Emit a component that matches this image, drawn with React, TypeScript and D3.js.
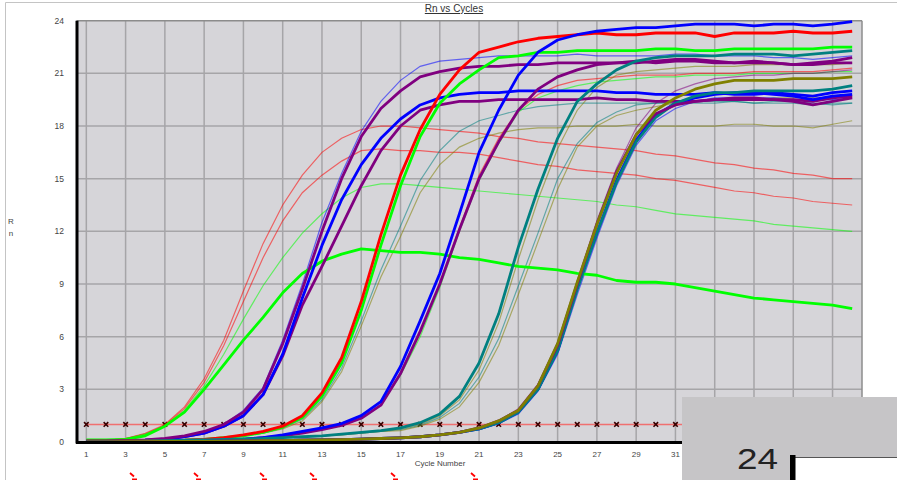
import React from "react";
import * as d3 from "d3";

// ---------- DATA ----------
const cycles = [1,2,3,4,5,6,7,8,9,10,11,12,13,14,15,16,17,18,19,20,21,22,23,24,25,26,27,28,29,30,31,32,33,34,35,36,37,38,39,40];
const gridCycles = [1,3,5,7,9,11,13,15,17,19,21,23,25,27,29,31,33,35,37,39];
const xTickLabels = [1,3,5,7,9,11,13,15,17,19,21,23,25,27,29,31];
const yTickLabels = [0,3,6,9,12,15,18,21,24];
const thresholdValue = 1;

// group 1 (early)
const redThinA = [0.05,0.1,0.2,0.5,1.0,2.0,3.6,5.8,8.6,11.3, 13.5,15.2,16.5,17.3,17.8,18.0,18.0,17.9,17.8,17.7, 17.6,17.4,17.3,17.1,17.0,16.9,16.8,16.7,16.6,16.4, 16.3,16.1,15.9,15.8,15.6,15.5,15.3,15.2,15.0,15.0];
const redThinB = [0.05,0.1,0.2,0.45,0.95,1.9,3.4,5.5,8.0,10.5, 12.6,14.2,15.2,16.0,16.6,16.7,16.6,16.6,16.5,16.5, 16.4,16.2,16.0,15.8,15.7,15.5,15.4,15.3,15.2,15.0, 14.9,14.7,14.5,14.3,14.2,14.0,13.9,13.7,13.6,13.5];
const greenThinA = [0.05,0.1,0.2,0.45,0.9,1.8,3.2,5.0,7.0,8.9, 10.5,11.9,13.0,13.9,14.5,14.7,14.7,14.6,14.5,14.4, 14.3,14.2,14.1,14.0,13.9,13.8,13.7,13.5,13.4,13.2, 13.0,12.9,12.8,12.7,12.6,12.4,12.3,12.2,12.1,12.0];
const greenThickA = [0.12,0.12,0.15,0.35,0.9,1.7,3.0,4.4,5.8,7.1, 8.5,9.6,10.3,10.7,11.0,10.9,10.8,10.8,10.7,10.5, 10.4,10.2,10.0,9.9,9.8,9.6,9.5,9.2,9.1,9.1, 9.0,8.8,8.6,8.4,8.2,8.1,8.0,7.9,7.8,7.6];

// group 2
const purpleThickA = [0.05,0.05,0.08,0.12,0.2,0.35,0.6,1.0,1.7,3.0, 5.6,8.7,12.0,15.0,17.4,19.0,20.0,20.8,21.1,21.3, 21.4,21.4,21.5,21.5,21.6,21.6,21.6,21.6,21.7,21.6, 21.7,21.7,21.6,21.6,21.7,21.6,21.5,21.5,21.6,21.6];
const blueThinA = [0.05,0.05,0.08,0.12,0.2,0.35,0.6,1.0,1.8,3.1, 5.8,9.0,12.5,15.3,17.7,19.4,20.6,21.4,21.7,21.8, 21.9,22.0,22.0,22.0,22.0,22.1,22.0,22.0,22.0,22.0, 22.1,22.1,22.0,22.0,22.0,21.9,21.9,21.8,21.9,22.0];
const blueThickA = [0.05,0.05,0.08,0.1,0.15,0.3,0.5,0.9,1.5,2.7, 5.0,8.2,11.2,13.8,15.8,17.3,18.4,19.2,19.6,19.8, 19.9,19.9,20.0,20.0,20.0,20.0,20.0,19.9,19.9,19.8, 19.8,19.8,19.9,19.8,19.8,19.9,19.8,19.7,19.9,20.0];
const purpleThickB = [0.05,0.05,0.08,0.1,0.15,0.3,0.5,0.9,1.5,2.7, 4.9,7.8,10.0,12.3,14.6,16.6,18.0,18.9,19.2,19.4, 19.4,19.5,19.5,19.5,19.5,19.5,19.6,19.5,19.5,19.4, 19.4,19.4,19.5,19.5,19.5,19.5,19.5,19.4,19.6,19.7];

// group 3
const redThick = [0.05,0.05,0.05,0.05,0.08,0.1,0.15,0.25,0.4,0.6, 0.9,1.5,2.8,4.8,8.0,11.8,15.2,17.8,19.8,21.2, 22.2,22.5,22.8,23.0,23.1,23.2,23.3,23.2,23.2,23.3, 23.3,23.3,23.1,23.3,23.3,23.3,23.4,23.3,23.3,23.4];
const greenThickB = [0.05,0.05,0.05,0.05,0.08,0.1,0.15,0.25,0.35,0.55, 0.85,1.4,2.6,4.5,7.5,11.2,14.6,17.4,19.3,20.4, 21.2,21.9,22.0,22.2,22.2,22.3,22.3,22.3,22.3,22.4, 22.4,22.3,22.3,22.4,22.4,22.4,22.4,22.4,22.5,22.5];
const tealThinA = [0.05,0.05,0.05,0.05,0.08,0.1,0.15,0.25,0.35,0.5, 0.8,1.3,2.4,4.2,6.9,9.8,12.3,14.9,16.6,17.7, 18.3,18.6,18.9,19.1,19.2,19.3,19.3,19.3,19.3,19.3, 19.3,19.3,19.3,19.4,19.3,19.3,19.3,19.2,19.3,19.3];
const oliveThinA = [0.05,0.05,0.05,0.05,0.08,0.1,0.15,0.25,0.35,0.5, 0.75,1.2,2.3,4.0,6.6,9.4,11.7,14.2,15.8,16.8, 17.3,17.6,17.8,17.9,17.9,18.0,18.0,18.0,18.1,18.0, 18.0,18.0,18.0,18.1,18.1,18.0,18.0,17.9,18.1,18.3];

// group 4
const blueThickB = [0.02,0.02,0.03,0.03,0.05,0.06,0.08,0.1,0.15,0.25, 0.4,0.6,0.8,1.05,1.5,2.3,4.3,6.9,9.6,13.0, 16.5,18.9,20.9,22.2,22.9,23.2,23.4,23.5,23.6,23.6, 23.7,23.8,23.8,23.8,23.7,23.8,23.8,23.7,23.8,23.95];
const purpleThickC = [0.02,0.02,0.03,0.03,0.05,0.06,0.08,0.1,0.15,0.25, 0.35,0.5,0.7,0.95,1.35,2.1,3.9,6.3,9.0,12.1, 15.0,17.1,18.9,20.1,20.8,21.2,21.5,21.6,21.6,21.7, 21.8,21.8,21.7,21.6,21.6,21.6,21.5,21.6,21.7,21.9];
const greenThinB = [0.02,0.02,0.03,0.03,0.05,0.06,0.08,0.1,0.15,0.25, 0.35,0.5,0.7,0.95,1.35,2.1,3.8,6.0,8.8,12.0, 14.9,17.0,18.8,19.6,20.0,20.3,20.5,20.6,20.7,20.8, 20.8,20.9,20.9,20.9,21.0,21.0,21.0,21.0,21.1,21.1];
const redThinC = [0.02,0.02,0.03,0.03,0.05,0.06,0.08,0.1,0.15,0.25, 0.35,0.5,0.7,0.95,1.35,2.1,3.9,6.2,9.0,12.2, 15.2,17.3,18.9,19.8,20.3,20.6,20.7,20.8,20.9,20.9, 20.9,21.0,21.0,21.0,21.1,21.1,21.1,21.1,21.2,21.3];

// group 5
const tealThickA = [0.03,0.03,0.04,0.05,0.07,0.1,0.12,0.15,0.18,0.2, 0.25,0.3,0.35,0.45,0.55,0.65,0.8,1.1,1.6,2.6, 4.5,7.3,11.1,14.4,17.3,19.4,20.4,21.2,21.7,21.9, 22.0,22.0,22.0,22.1,22.1,22.1,22.0,22.1,22.2,22.3];
const oliveThinB = [0.03,0.03,0.04,0.05,0.07,0.1,0.12,0.15,0.18,0.2, 0.25,0.3,0.35,0.45,0.55,0.65,0.75,1.0,1.5,2.4, 4.1,6.8,10.4,13.8,16.7,18.9,20.2,20.9,21.1,21.2, 21.3,21.4,21.4,21.4,21.5,21.5,21.5,21.5,21.5,21.6];
const tealThinB = [0.03,0.03,0.04,0.05,0.07,0.1,0.12,0.15,0.18,0.2, 0.25,0.3,0.35,0.4,0.5,0.6,0.7,0.95,1.4,2.2, 3.7,5.9,8.9,11.9,15.0,17.0,18.2,18.8,19.2,19.3, 19.4,19.4,19.4,19.4,19.3,19.4,19.4,19.3,19.2,19.3];
const oliveThinC = [0.03,0.03,0.04,0.05,0.07,0.1,0.12,0.15,0.18,0.2, 0.25,0.3,0.35,0.4,0.5,0.6,0.65,0.9,1.3,2.0, 3.4,5.5,8.4,11.4,14.4,16.8,18.0,18.6,18.9,19.1, 19.3,19.4,19.5,19.5,19.5,19.6,19.6,19.6,19.6,19.7];

// group 6
const blueThickC = [0.01,0.01,0.02,0.02,0.03,0.03,0.04,0.05,0.06,0.07, 0.08,0.1,0.12,0.14,0.16,0.2,0.24,0.3,0.4,0.55, 0.75,1.1,1.7,3.0,5.2,8.8,11.9,14.9,17.2,18.6, 19.3,19.6,19.8,19.9,19.9,19.8,19.7,19.5,19.7,19.8];
const oliveThick = [0.01,0.01,0.02,0.02,0.03,0.03,0.04,0.05,0.06,0.07, 0.08,0.1,0.12,0.14,0.16,0.2,0.24,0.3,0.4,0.55, 0.8,1.2,1.8,3.2,5.6,9.1,12.4,15.3,17.5,18.9, 19.6,20.1,20.4,20.6,20.6,20.6,20.7,20.7,20.7,20.8];
const purpleThickD = [0.01,0.01,0.02,0.02,0.03,0.03,0.04,0.05,0.06,0.07, 0.08,0.1,0.12,0.14,0.16,0.2,0.24,0.3,0.4,0.55, 0.8,1.2,1.8,3.2,5.5,9.0,12.4,15.4,17.5,18.7, 19.2,19.4,19.5,19.6,19.6,19.5,19.4,19.2,19.4,19.6];
const tealThickB = [0.01,0.01,0.02,0.02,0.03,0.03,0.04,0.05,0.06,0.07, 0.08,0.1,0.12,0.14,0.16,0.2,0.24,0.3,0.4,0.55, 0.75,1.1,1.7,3.0,5.2,8.7,11.9,14.8,17.1,18.5, 19.3,19.7,19.9,19.9,20.0,20.0,20.0,20.0,20.1,20.3];
const purpleThinB = [0.01,0.01,0.02,0.02,0.03,0.03,0.04,0.05,0.06,0.07, 0.08,0.1,0.12,0.14,0.16,0.2,0.24,0.3,0.4,0.55, 0.8,1.2,1.9,3.3,5.7,9.2,12.6,15.6,17.9,19.3, 20.0,20.4,20.7,20.8,20.9,20.9,21.0,21.0,21.1,21.2];
const blueThinB = [0.01,0.01,0.02,0.02,0.03,0.03,0.04,0.05,0.06,0.07, 0.08,0.1,0.12,0.14,0.16,0.2,0.24,0.3,0.4,0.55, 0.7,1.05,1.6,2.9,5.0,8.4,11.6,14.6,16.9,18.3, 19.0,19.4,19.6,19.6,19.6,19.6,19.5,19.5,19.5,19.6];

// ---------- STYLES ----------
const COL = {
  red: "#ff0000", green: "#00ff00", blue: "#0000ff",
  purple: "#800080", teal: "#008080", olive: "#808000",
};

const thinSeries: [number[], string][] = [
  [redThinA, COL.red], [redThinB, COL.red], [greenThinA, COL.green],
  [blueThinA, COL.blue], [tealThinA, COL.teal], [oliveThinA, COL.olive],
  [greenThinB, COL.green], [redThinC, COL.red],
  [oliveThinB, COL.olive], [tealThinB, COL.teal], [oliveThinC, COL.olive],
  [purpleThinB, COL.purple], [blueThinB, COL.blue],
];
const thickSeries: [number[], string][] = [
  [greenThickA, COL.green],
  [purpleThickB, COL.purple], [blueThickA, COL.blue], [purpleThickA, COL.purple],
  [greenThickB, COL.green], [redThick, COL.red],
  [purpleThickC, COL.purple], [blueThickB, COL.blue],
  [tealThickA, COL.teal],
  [blueThickC, COL.blue], [tealThickB, COL.teal], [purpleThickD, COL.purple], [oliveThick, COL.olive],
];

const redMarks = [133, 197, 263, 313, 394, 474];

export default function App() {
  const W = 897, H = 480;
  const x = d3.scaleLinear().domain([0.5, 40.5]).range([76.5, 862]);
  const y = d3.scaleLinear().domain([0, 24]).range([442, 20.7]);
  const line = d3.line<number>().x((_, i) => x(cycles[i])).y((v) => y(v));
  const font = "'Liberation Sans', Arial, sans-serif";

  return (
    <svg width={W} height={H} style={{ position: "absolute", left: 0, top: 0, background: "#fff" }}>
      <rect x={0} y={0} width={W} height={H} fill="#fff" />
      {/* outer frame */}
      <line x1={5.5} y1={2.5} x2={W} y2={2.5} stroke="#c4c4c4" strokeWidth={1} />
      <line x1={5.5} y1={2.5} x2={5.5} y2={H} stroke="#c4c4c4" strokeWidth={1} />

      {/* title */}
      <text x={454} y={12} fontSize={10} fontFamily={font} fill="#333" textAnchor="middle" textDecoration="underline">Rn vs Cycles</text>

      {/* plot background */}
      <rect x={x(0.5)} y={y(24)} width={x(40.5) - x(0.5)} height={y(0) - y(24)} fill="#d6d5d9" />
      {/* grid */}
      {gridCycles.map((c) => (
        <line key={"gx" + c} x1={x(c)} x2={x(c)} y1={y(24)} y2={y(0)} stroke="#a6a5a8" strokeWidth={1.5} />
      ))}
      {yTickLabels.filter((v) => v > 0 && v < 24).map((v) => (
        <line key={"gy" + v} x1={x(0.5)} x2={x(40.5)} y1={y(v)} y2={y(v)} stroke="#a6a5a8" strokeWidth={1.5} />
      ))}
      {/* top/right borders */}
      <line x1={x(0.5)} x2={x(40.5)} y1={y(24)} y2={y(24)} stroke="#8c8c8c" strokeWidth={1.5} />
      <line x1={x(40.5)} x2={x(40.5)} y1={y(24)} y2={y(0)} stroke="#8c8c8c" strokeWidth={1.5} />

      {/* threshold */}
      <line x1={x(1)} x2={x(40)} y1={y(thresholdValue)} y2={y(thresholdValue)} stroke="#f07070" strokeWidth={1.5} />
      {cycles.map((c) => (
        <path key={"m" + c} transform={`translate(${x(c)},${y(thresholdValue)})`}
          d="M-2.3,-2.3L2.3,2.3M-2.3,2.3L2.3,-2.3" stroke="#3a0000" strokeWidth={1.6} />
      ))}

      {/* thin curves */}
      {thinSeries.map(([vals, col], i) => (
        <path key={"t" + i} d={line(vals) || ""} fill="none" stroke={col} strokeOpacity={0.55} strokeWidth={1.2} />
      ))}
      {/* thick curves */}
      {thickSeries.map(([vals, col], i) => (
        <path key={"k" + i} d={line(vals) || ""} fill="none" stroke={col} strokeWidth={2.8} strokeLinejoin="round" />
      ))}

      {/* axes */}
      <line x1={77} x2={77} y1={y(24)} y2={y(0) + 1.5} stroke="#000" strokeWidth={3} />
      <line x1={76} x2={x(40.5)} y1={y(0) + 0.5} y2={y(0) + 0.5} stroke="#000" strokeWidth={3} />

      {/* y ticks */}
      {yTickLabels.map((v) => (
        <text key={"yl" + v} x={64} y={y(v) + 3} fontSize={8.5} fontFamily={font} fill="#444" textAnchor="end">{v}</text>
      ))}
      <text x={11} y={224} fontSize={8} fontFamily={font} fill="#444" textAnchor="middle">R</text>
      <text x={11} y={236} fontSize={8} fontFamily={font} fill="#444" textAnchor="middle">n</text>

      {/* x ticks */}
      {xTickLabels.map((c) => (
        <text key={"xl" + c} x={x(c)} y={456.5} fontSize={8} fontFamily={font} fill="#444" textAnchor="middle">{c}</text>
      ))}
      <text x={440} y={466} fontSize={8} fontFamily={font} fill="#444" textAnchor="middle">Cycle Number</text>

      {/* red marks at bottom */}
      {redMarks.map((m, i) => (
        <path key={"r" + i} d={`M${m - 3},473 L${m + 1},476.5 M${m - 1},479.5 L${m + 4},479.5`} stroke="#ff0000" strokeWidth={1.8} fill="none" />
      ))}

      {/* overlay (zoomed inset) */}
      <rect x={682} y={397} width={W - 682} height={H - 397} fill="#c6c5c7" />
      <text x={737} y={468.5} fontSize={30} fontFamily={font} fill="#222" textLength={41} lengthAdjust="spacingAndGlyphs">24</text>
      <rect x={795} y={457} width={W - 795} height={H - 457} fill="#fff" />
      <line x1={795} x2={W} y1={457.5} y2={457.5} stroke="#555" strokeWidth={1} />
      <rect x={790} y={455} width={5.5} height={H - 455} fill="#000" />
    </svg>
  );
}
